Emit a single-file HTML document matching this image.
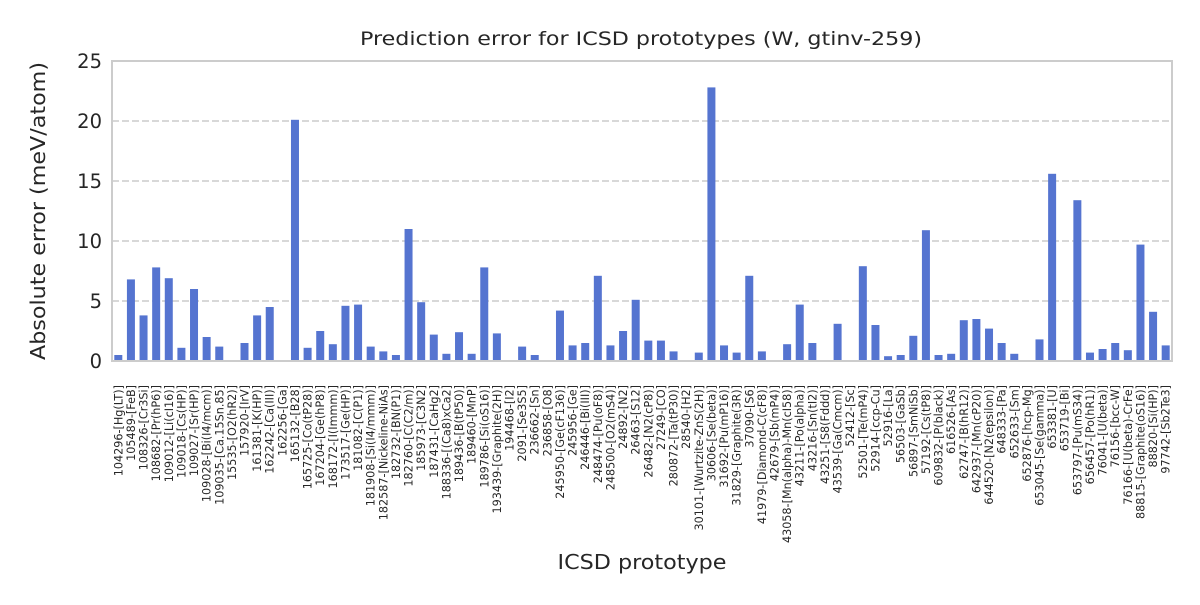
<!DOCTYPE html>
<html><head><meta charset="utf-8"><style>
body{margin:0;background:#fff;}
svg text{font-family:"DejaVu Sans","Liberation Sans",sans-serif;fill:#262626;}
</style></head><body>
<svg id="chart" width="1200" height="600" xmlns="http://www.w3.org/2000/svg">
<text x="641" y="45" font-size="19" text-anchor="middle" textLength="562" lengthAdjust="spacingAndGlyphs">Prediction error for ICSD prototypes (W, gtinv-259)</text>
<g id="grid"></g><g id="bars"></g><g id="yt"></g><g id="xt"></g>
<rect x="112" y="61" width="1060" height="300" fill="none" stroke="#cccccc" stroke-width="2"/>
<text transform="translate(45,211) rotate(-90)" font-size="20" text-anchor="middle" textLength="298" lengthAdjust="spacingAndGlyphs">Absolute error (meV/atom)</text>
<text x="642" y="569" font-size="20" text-anchor="middle" textLength="169" lengthAdjust="spacingAndGlyphs">ICSD prototype</text>
</svg>
<script>
const categories=["104296-[Hg(LT)]","105489-[FeB]","108326-[Cr3Si]","108682-[Pr(hP6)]","109012-[Li(cI16)]","109018-[Cs(HP)]","109027-[Sr(HP)]","109028-[Bi(I4/mcm)]","109035-[Ca.15Sn.85]","15535-[O2(hR2)]","157920-[IrV]","161381-[K(HP)]","162242-[Ca(III)]","162256-[Ga]","165132-[B28]","165725-[Co(tP28)]","167204-[Ge(hP8)]","168172-[I(Immm)]","173517-[Ge(HP)]","181082-[C(P1)]","181908-[Si(I4/mmm)]","182587-[Nickeline-NiAs]","182732-[BN(P1)]","182760-[C(C2/m)]","185973-[C3N2]","187431-[CaHg2]","188336-[(Ca8)xCa2]","189436-[B(tP50)]","189460-[MnP]","189786-[Si(oS16)]","193439-[Graphite(2H)]","194468-[I2]","2091-[Se3S5]","236662-[Sn]","236858-[O8]","245950-[Ge(cF136)]","245956-[Ge]","246446-[Bi(III)]","248474-[Pu(oF8)]","248500-[O2(mS4)]","24892-[N2]","26463-[S12]","26482-[N2(cP8)]","27249-[CO]","280872-[Ta(tP30)]","28540-[H2]","30101-[Wurtzite-ZnS(2H)]","30606-[Se(beta)]","31692-[Pu(mP16)]","31829-[Graphite(3R)]","37090-[S6]","41979-[Diamond-C(cF8)]","42679-[Sb(mP4)]","43058-[Mn(alpha)-Mn(cI58)]","43211-[Po(alpha)]","43216-[Sn(tI2)]","43251-[S8(Fddd)]","43539-[Ga(Cmcm)]","52412-[Sc]","52501-[Te(mP4)]","52914-[ccp-Cu]","52916-[La]","56503-[GaSb]","56897-[SmNiSb]","57192-[Cs(tP8)]","609832-[P(black)]","616526-[As]","62747-[B(hR12)]","642937-[Mn(cP20)]","644520-[N2(epsilon)]","648333-[Pa]","652633-[Sm]","652876-[hcp-Mg]","653045-[Se(gamma)]","653381-[U]","653719-[Bi]","653797-[Pu(mS34)]","656457-[Po(hR1)]","76041-[U(beta)]","76156-[bcc-W]","76166-[U(beta)-CrFe]","88815-[Graphite(oS16)]","88820-[Si(HP)]","97742-[Sb2Te3]"];
const errors=[0.5,6.8,3.8,7.8,6.9,1.1,6.0,2.0,1.2,0,1.5,3.8,4.5,0,20.1,1.1,2.5,1.4,4.6,4.7,1.2,0.8,0.5,11.0,4.9,2.2,0.6,2.4,0.6,7.8,2.3,0,1.2,0.5,0,4.2,1.3,1.5,7.1,1.3,2.5,5.1,1.7,1.7,0.8,0,0.7,22.8,1.3,0.7,7.1,0.8,0,1.4,4.7,1.5,0,3.1,0,7.9,3.0,0.4,0.5,2.1,10.9,0.5,0.6,3.4,3.5,2.7,1.5,0.6,0,1.8,15.6,0,13.4,0.7,1.0,1.5,0.9,9.7,4.1,1.3];
const yTicks=[0,5,10,15,20,25];
const NS='http://www.w3.org/2000/svg';
const X0=112,X1=1172,Y0=361,Y1=61,YMAX=25;
const step=(X1-X0)/categories.length;
const xs=i=>X0+step*(i+0.5);
const ys=v=>Y0-(v/YMAX)*(Y0-Y1);
function mk(t,a,p){const e=document.createElementNS(NS,t);for(const k in a)e.setAttribute(k,a[k]);p.appendChild(e);return e;}
const grid=document.getElementById('grid'),yt=document.getElementById('yt'),bars=document.getElementById('bars'),xt=document.getElementById('xt');
yTicks.forEach(v=>{
  if(v>0&&v<YMAX){const l=mk('line',{x1:X0,x2:X1,y1:ys(v),y2:ys(v),stroke:'#cccccc','stroke-width':1.5,'stroke-dasharray':'7,3'},grid);
  
  }
  const t=mk('text',{x:X0-10,y:ys(v)+7,'font-size':19.5,'text-anchor':'end'},yt);
  t.textContent=v;
  
  
});
categories.forEach((c,i)=>{
  const v=errors[i];
  const r=mk('rect',{x:xs(i)-4,y:ys(v),width:8,height:Y0-ys(v),fill:'#5574d0'},bars);
  
  
  const t=mk('text',{transform:`translate(${xs(i)+4},385) rotate(-90)`,'font-size':11.2,'text-anchor':'end'},xt);
  t.textContent=c;
  
  
});
</script>
</body></html>
